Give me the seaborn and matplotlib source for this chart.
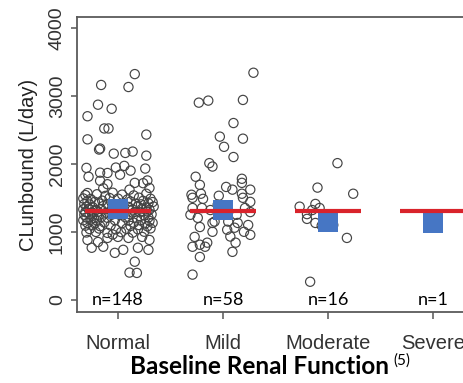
import matplotlib
matplotlib.use("Agg")
import matplotlib.pyplot as plt
import pandas as pd
import seaborn as sns

# ---------------- data ----------------
categories = ["Normal", "Mild", "Moderate", "Severe"]
count_labels = ["n=148", "n=58", "n=16", "n=1"]
yticks = [0, 1000, 2000, 3000, 4000]
reference_value = 1300                      # red horizontal line
mean_values = [1340, 1320, 1150, 1130]      # blue squares

# (horizontal jitter offset, CLunbound L/day)
normal_pts = [
    (0.16, 3320), (-0.16, 3160), (0.10, 3130), (-0.19, 2870), (-0.06, 2810),
    (-0.29, 2700), (-0.13, 2520), (-0.09, 2520), (-0.29, 2360), (0.27, 2430),
    (-0.18, 2210), (-0.17, 2225), (-0.04, 2150), (0.07, 2160), (0.14, 2180),
    (0.27, 2120), (-0.30, 1940), (-0.28, 1810), (-0.17, 1870), (-0.10, 1865),
    (-0.02, 1945), (0.06, 1970), (0.12, 1900), (0.26, 1930), (-0.17, 1750),
    (-0.10, 1700), (0.02, 1840), (0.16, 1720), (0.24, 1715), (0.28, 1755),
    (-0.29, 1570), (-0.14, 1640), (-0.05, 1575), (0.11, 1620), (0.30, 1645),
    # dense band
    (-0.31, 1540), (-0.20, 1552), (-0.12, 1528), (0.04, 1547), (0.15, 1535), (0.27, 1560),
    (-0.33, 1490), (-0.26, 1482), (-0.08, 1497), (0.00, 1488), (0.09, 1475), (0.20, 1502), (0.31, 1486),
    (-0.29, 1450), (-0.22, 1441), (-0.15, 1458), (0.12, 1446), (0.24, 1455), (0.33, 1437),
    (-0.32, 1410), (-0.27, 1402), (-0.18, 1418), (-0.10, 1407), (0.05, 1395), (0.17, 1413), (0.22, 1404), (0.29, 1420),
    (-0.30, 1370), (-0.24, 1362), (-0.14, 1378), (0.10, 1366), (0.19, 1374), (0.27, 1359), (0.34, 1371),
    (-0.33, 1330), (-0.28, 1338), (-0.21, 1322), (-0.16, 1334), (0.14, 1327), (0.23, 1341), (0.30, 1325),
    (-0.31, 1290), (-0.25, 1284), (-0.19, 1296), (-0.11, 1281), (0.16, 1293), (0.21, 1287), (0.28, 1299),
    (-0.32, 1250), (-0.27, 1258), (-0.20, 1243), (-0.06, 1252), (0.02, 1246), (0.12, 1255), (0.25, 1240), (0.32, 1257),
    (-0.30, 1210), (-0.23, 1203), (-0.16, 1217), (-0.10, 1206), (0.07, 1214), (0.18, 1199), (0.29, 1211),
    (-0.33, 1170), (-0.26, 1178), (-0.20, 1163), (-0.03, 1172), (0.10, 1166), (0.22, 1175), (0.30, 1161),
    (-0.29, 1130), (-0.22, 1124), (-0.13, 1137), (0.04, 1128), (0.15, 1134), (0.26, 1121), (0.33, 1132),
    (-0.31, 1090), (-0.24, 1097), (-0.17, 1083), (-0.07, 1092), (0.12, 1086), (0.20, 1099), (0.28, 1081),
    (-0.27, 1040), (-0.18, 1048), (-0.02, 1035), (0.08, 1044), (0.19, 1037), (0.31, 1050),
    (-0.30, 990), (-0.21, 998), (-0.10, 984), (0.03, 995), (0.14, 987), (0.25, 1001), (-0.05, 960),
    # lower tail
    (-0.29, 880), (-0.19, 850), (-0.10, 910), (0.00, 925), (0.10, 910), (0.23, 925),
    (0.30, 880), (-0.25, 765), (-0.14, 780), (0.05, 735), (0.19, 765), (0.29, 735),
    (0.16, 560), (0.11, 400), (0.18, 395), (-0.03, 690),
]

mild_pts = [
    (0.29, 3340), (-0.23, 2900), (-0.14, 2930), (0.19, 2940), (0.10, 2600),
    (-0.03, 2400), (0.19, 2370), (0.01, 2250), (0.10, 2100), (-0.13, 2010),
    (-0.10, 1960), (-0.26, 1810), (0.18, 1780), (0.18, 1720), (0.03, 1660),
    (0.18, 1560), (-0.30, 1545), (-0.21, 1560), (-0.22, 1690), (0.26, 1620),
    (-0.29, 1500), (-0.19, 1485), (0.19, 1500), (0.26, 1440), (-0.29, 1350),
    (-0.20, 1350), (0.26, 1290), (-0.24, 1205), (-0.10, 1130), (-0.08, 1150),
    (0.05, 1150), (0.14, 1130), (0.24, 1100), (-0.22, 1070), (0.04, 1030),
    (0.11, 1060), (0.07, 930), (0.26, 955), (-0.27, 925), (-0.22, 810),
    (-0.29, 780), (-0.17, 780), (0.09, 705), (-0.29, 370), (-0.22, 630),
    (-0.15, 840), (-0.05, 1400), (0.05, 1290), (-0.03, 1250), (-0.12, 1320),
    (0.21, 1350), (0.13, 1250), (-0.31, 1250), (-0.10, 1000), (0.20, 1000),
    (0.12, 840), (-0.04, 1530), (0.09, 1620),
]

moderate_pts = [
    (0.09, 2010), (-0.10, 1650), (0.24, 1560), (-0.27, 1370), (-0.12, 1410),
    (-0.08, 1350), (-0.20, 1260), (-0.20, 1190), (-0.12, 1130), (0.18, 910),
    (-0.17, 265), (-0.15, 1320), (-0.03, 1200), (0.05, 1100), (0.01, 1250),
    (-0.06, 1090),
]

severe_pts = [(0.00, 1120)]

# ---------------- build a tidy table ----------------
rows = []
for i, pts in enumerate([normal_pts, mild_pts, moderate_pts, severe_pts]):
    for off, val in pts:
        rows.append({"group": categories[i], "pos": i + off, "CL": val})
df = pd.DataFrame(rows)
means = pd.DataFrame({"pos": range(len(categories)), "CL": mean_values})

# ---------------- style ----------------
sns.set_theme(style="white")
plt.rcParams["font.family"] = ["Liberation Sans", "DejaVu Sans"]

W, H = 464, 383
fig = plt.figure(figsize=(W / 100, H / 100), dpi=100)
ax = fig.add_axes([77 / W, 71 / H, 1 - 77 / W, 295 / H])

sns.scatterplot(data=df, x="pos", y="CL", ax=ax, marker="o", s=44,
                facecolor="none", edgecolor="#444444", linewidth=0.85,
                legend=False, zorder=2)
sns.scatterplot(data=means, x="pos", y="CL", ax=ax, marker="s", s=210,
                color="#4676c4", linewidth=0, legend=False, zorder=3)
for i in range(len(categories)):
    ax.hlines(reference_value, i - 0.31, i + 0.31, color="#d9232b",
              linewidth=3.0, zorder=4)
    ax.text(i, 0, count_labels[i], ha="center", va="center",
            fontsize=13, family=["Lato", "DejaVu Sans"], color="black", zorder=5)

ax.set_xlim(-0.39, 3.295)
ax.set_ylim(-180, 4160)
ax.set_xticks(range(len(categories)))
ax.set_xticklabels(categories, family=["Liberation Sans", "DejaVu Sans"])
ax.set_yticks(yticks)
ax.set_yticklabels([str(v) for v in yticks], rotation=90, va="center",
                   family=["Liberation Sans", "DejaVu Sans"])
ax.set_xlabel("")
ax.set_ylabel("CLunbound (L/day)", fontsize=14.5, color="#222222", labelpad=8,
              family=["Liberation Sans", "DejaVu Sans"])

ax.tick_params(axis="x", length=5, width=1.1, color="#555555", pad=11,
               labelsize=14.5, labelcolor="#333333", bottom=True)
ax.tick_params(axis="y", length=4, width=1.1, color="#555555", pad=4,
               labelsize=14, labelcolor="#333333", left=True)

for side in ["left", "top", "bottom"]:
    ax.spines[side].set_visible(True)
    ax.spines[side].set_color("#5a5a5a")
    ax.spines[side].set_linewidth(1.3)
ax.spines["right"].set_visible(False)

fig.text(260 / W, 1 - 366 / H, "Baseline Renal Function", ha="center",
         va="center", fontsize=17.5, fontweight="bold",
         family=["Lato", "DejaVu Sans"], color="black")
fig.text(393 / W, 1 - 361 / H, "(5)", ha="left", va="center", fontsize=11,
         family=["Lato", "DejaVu Sans"], color="black")

fig.savefig("out.png", dpi=100)
